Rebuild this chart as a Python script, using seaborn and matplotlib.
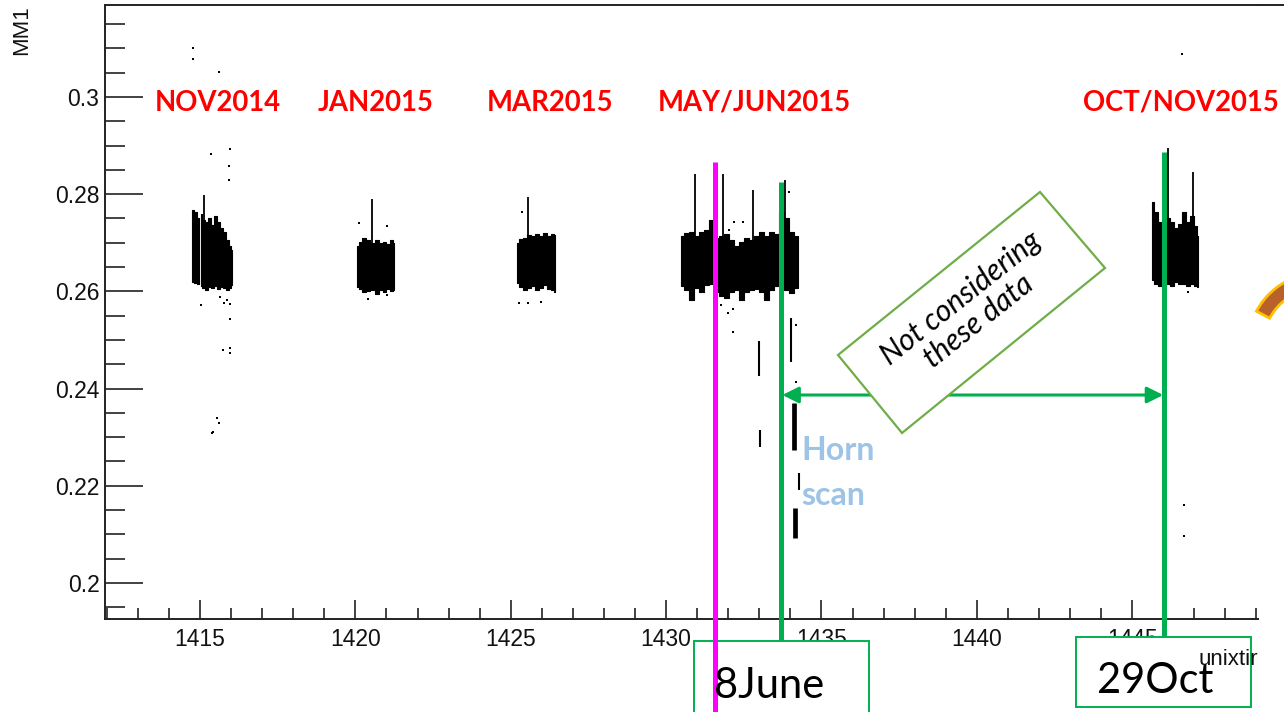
import numpy as np
import pandas as pd
import matplotlib
matplotlib.use("Agg")
import matplotlib.pyplot as plt
import matplotlib.transforms as mtransforms
from matplotlib.patches import Rectangle, Polygon, Wedge
from matplotlib.lines import Line2D
from matplotlib.ticker import FixedLocator, MultipleLocator
import seaborn as sns

# ---------------- data (unixtime / 1e6, MM1) ----------------
nov_t  = [1414.74, 1414.84, 1414.97, 1415.00, 1415.04, 1415.10, 1415.19, 1415.29, 1415.39,
          1415.48, 1415.58, 1415.68, 1415.77, 1415.87, 1415.97, 1416.03]
nov_hi = [0.2767, 0.2763, 0.2751, np.nan, 0.2759, 0.2747, 0.2743, 0.2751, 0.2737,
          0.2755, 0.2743, 0.2730, 0.2722, 0.2706, 0.2693, 0.2685]
nov_lo = [0.2619, 0.2617, 0.2615, np.nan, 0.2611, 0.2607, 0.2603, 0.2609, 0.2607,
          0.2611, 0.2605, 0.2609, 0.2607, 0.2603, 0.2607, 0.2613]

jan_t  = [1420.06, 1420.16, 1420.29, 1420.42, 1420.55, 1420.68, 1420.81, 1420.94, 1421.06, 1421.19, 1421.23]
jan_hi = [0.2693, 0.2702, 0.2710, 0.2706, 0.2700, 0.2706, 0.2700, 0.2702, 0.2697, 0.2706, 0.2700]
jan_lo = [0.2609, 0.2605, 0.2599, 0.2601, 0.2603, 0.2595, 0.2603, 0.2599, 0.2605, 0.2601, 0.2603]

mar_t  = [1425.19, 1425.32, 1425.45, 1425.58, 1425.71, 1425.84, 1425.97, 1426.10, 1426.23, 1426.35, 1426.42]
mar_hi = [0.2700, 0.2708, 0.2710, 0.2716, 0.2714, 0.2718, 0.2714, 0.2720, 0.2714, 0.2718, 0.2716]
mar_lo = [0.2617, 0.2609, 0.2603, 0.2607, 0.2611, 0.2603, 0.2607, 0.2613, 0.2605, 0.2603, 0.2599]

may_t  = [1430.48, 1430.65, 1430.81, 1430.97, 1431.13, 1431.29, 1431.45, 1431.61, 1431.77, 1431.94,
          1432.10, 1432.26, 1432.42, 1432.58, 1432.74, 1432.90, 1433.06, 1433.23, 1433.39, 1433.55,
          1433.71, 1433.87, 1434.03, 1434.23]
may_hi = [0.2714, 0.2720, 0.2722, 0.2714, 0.2722, 0.2726, 0.2747, 0.2710, 0.2714, 0.2718,
          0.2706, 0.2693, 0.2702, 0.2710, 0.2706, 0.2714, 0.2722, 0.2714, 0.2722, 0.2718,
          0.2763, 0.2751, 0.2722, 0.2714]
may_lo = [0.2611, 0.2603, 0.2582, 0.2607, 0.2599, 0.2613, 0.2615, 0.2599, 0.2591, 0.2586,
          0.2599, 0.2603, 0.2582, 0.2599, 0.2603, 0.2605, 0.2599, 0.2582, 0.2603, 0.2611,
          0.2615, 0.2603, 0.2597, 0.2607]

oct_t  = [1445.65, 1445.77, 1445.90, 1446.03, 1446.16, 1446.29, 1446.42, 1446.55, 1446.68,
          1446.81, 1446.94, 1447.06, 1447.13]
oct_hi = [0.2784, 0.2763, 0.2743, 0.2737, 0.2751, 0.2743, 0.2730, 0.2739, 0.2763,
          0.2743, 0.2755, 0.2735, 0.2714]
oct_lo = [0.2623, 0.2615, 0.2611, 0.2619, 0.2615, 0.2611, 0.2619, 0.2615, 0.2615,
          0.2611, 0.2615, 0.2611, 0.2609]

# single-shot spikes
spike_t  = [1415.13, 1420.54, 1425.57, 1430.93, 1431.84, 1432.80, 1433.82, 1446.15, 1446.95]
spike_hi = [0.2798, 0.2790, 0.2794, 0.2842, 0.2842, 0.2809, 0.2829, 0.2895, 0.2846]
spike_lo = [0.2660, 0.2660, 0.2660, 0.2660, 0.2660, 0.2660, 0.2660, 0.2660, 0.2660]

# horn-scan runs
horn_t  = [1434.03, 1434.11, 1434.27, 1434.14, 1433.00, 1433.03]
horn_hi = [0.2545, 0.2370, 0.2226, 0.2154, 0.2498, 0.2315]
horn_lo = [0.2455, 0.2274, 0.2191, 0.2092, 0.2426, 0.2280]
horn_thick = [False, True, False, True, False, False]

# isolated points
out_t = [1414.77, 1414.77, 1415.61, 1415.35, 1415.97, 1415.94, 1415.94, 1415.03, 1415.97, 1415.74,
         1415.97, 1415.97, 1415.55, 1415.61, 1415.42, 1415.39, 1415.65, 1415.87, 1415.97, 1415.77,
         1420.42, 1421.03, 1420.10, 1421.03,
         1425.35, 1425.26, 1425.55, 1425.97,
         1431.77, 1432.16, 1432.00, 1432.16, 1434.19, 1434.19, 1432.19, 1432.48, 1432.03, 1433.97,
         1446.61, 1446.68, 1446.68, 1446.81]
out_v = [0.3101, 0.3078, 0.3051, 0.2883, 0.2893, 0.2858, 0.2829, 0.2572, 0.2543, 0.2479,
         0.2483, 0.2473, 0.2339, 0.2329, 0.2311, 0.2309, 0.2588, 0.2582, 0.2574, 0.2576,
         0.2584, 0.2592, 0.2741, 0.2735,
         0.2763, 0.2576, 0.2576, 0.2578,
         0.2572, 0.2564, 0.2555, 0.2516, 0.2531, 0.2414, 0.2743, 0.2743, 0.2726, 0.2804,
         0.3089, 0.2160, 0.2097, 0.2599]

x_ticks = [1415, 1420, 1425, 1430, 1435, 1440, 1445]
x_tick_labels = ["1415", "1420", "1425", "1430", "1435", "1440", "1445"]
y_ticks = [0.20, 0.22, 0.24, 0.26, 0.28, 0.30]
y_tick_labels = ["0.2", "0.22", "0.24", "0.26", "0.28", "0.3"]

period_labels = ["NOV2014", "JAN2015", "MAR2015", "MAY/JUN2015", "OCT/NOV2015"]
marker_dates = [1431.56, 1433.71, 1446.03]     # magenta, 8 June, 29 Oct
arrow_from, arrow_to = 1433.74, 1446.00

# ---------------- figure ----------------
sns.set_theme(style="white")
plt.rcParams["font.family"] = ["Liberation Sans", "DejaVu Sans"]

W, H = 1284, 712
fig = plt.figure(figsize=(W / 100, H / 100), dpi=100)
fig.patch.set_facecolor("white")
ax = fig.add_axes([105 / W, 1 - 619 / H, (1258 - 105) / W, (619 - 5) / H])
ax.set_facecolor("white")
ax.autoscale(False)
ax.set_xlim(1411.94, 1449.05)
ax.set_ylim(0.19259, 0.31893)

pxT = mtransforms.Affine2D().scale(1, -1).translate(0, H)
blend = mtransforms.blended_transform_factory(ax.transData, pxT)

# clusters
for t, lo, hi in [(nov_t, nov_lo, nov_hi), (jan_t, jan_lo, jan_hi), (mar_t, mar_lo, mar_hi),
                  (may_t, may_lo, may_hi), (oct_t, oct_lo, oct_hi)]:
    ax.fill_between(t, lo, hi, step="mid", color="black", lw=0.8, edgecolor="black", zorder=2)

ax.vlines(spike_t, spike_lo, spike_hi, color="black", lw=1.3, zorder=2)
ax.vlines(horn_t, horn_lo, horn_hi, color="black",
          linewidths=[3.4 if th else 1.5 for th in horn_thick], zorder=2)
sns.scatterplot(x=out_t, y=out_v, ax=ax, color="black", s=3, marker="s",
                linewidth=0, legend=False, zorder=3)

# axes styling (ROOT look)
for s in ["left", "bottom", "top"]:
    ax.spines[s].set_color("#222222")
    ax.spines[s].set_linewidth(1.4)
ax.spines["right"].set_visible(False)
fig.add_artist(Line2D([1258 / W, 1.0], [1 - 5 / H, 1 - 5 / H], color="#222222", lw=1.4))

ax.xaxis.set_major_locator(FixedLocator(x_ticks))
ax.set_xticklabels(x_tick_labels)
ax.xaxis.set_minor_locator(MultipleLocator(1))
ax.yaxis.set_major_locator(FixedLocator(y_ticks))
ax.set_yticklabels(y_tick_labels)
ax.yaxis.set_minor_locator(MultipleLocator(0.005))
ax.tick_params(axis="y", which="major", direction="in", length=27, width=1.2,
               color="#222222", pad=4.0, labelsize=16.5, labelcolor="#111111", left=True)
ax.tick_params(axis="y", which="minor", direction="in", length=14.4, width=1.2,
               color="#222222", left=True)
ax.tick_params(axis="x", which="major", direction="in", length=13.7, width=1.2,
               color="#222222", pad=6.5, labelsize=16.5, labelcolor="#111111", bottom=True)
ax.tick_params(axis="x", which="minor", direction="in", length=7.9, width=1.2,
               color="#222222", bottom=True)

ax.text(22, 5, "MM1", transform=pxT, rotation=90, ha="center", va="top",
        fontsize=16, color="#111111", clip_on=False)
ax.text(1258, 665, "unixtir", transform=pxT, ha="right", va="baseline",
        fontsize=16, color="#111111", clip_on=False, zorder=9)

# period labels
label_px = [218, 376, 550, 754, 1181]
for lab, xp in zip(period_labels, label_px):
    ax.text(xp, 111, lab, transform=pxT, ha="center", va="baseline", color="#FF0000",
            fontsize=19.8, fontweight="bold", family=["Lato", "DejaVu Sans"], zorder=3, clip_on=False)

# vertical marker lines (end at the top of the date boxes)
green = "#00B050"
tops = [162, 182, 152]
bottoms = [H + 5, 641, 637]
cols = ["#FF00FF", green, green]
zs = [7, 4, 4]
for d, tp, bt, c, z in zip(marker_dates, tops, bottoms, cols, zs):
    ax.plot([d, d], [tp, bt], transform=blend, color=c, lw=3.6, clip_on=False,
            zorder=z, solid_capstyle="butt")

# double arrow
ax.annotate("", xy=(arrow_from, 395), xytext=(arrow_to, 395), xycoords=blend, textcoords=blend,
            arrowprops=dict(arrowstyle="<|-|>,head_length=0.7,head_width=0.35", color=green,
                            lw=2.2, shrinkA=0, shrinkB=0, mutation_scale=14),
            zorder=4, annotation_clip=False)

# rotated "Not considering these data" box
poly = Polygon([(838, 355), (1040, 192), (1105, 268), (902, 433)], closed=True,
               transform=pxT, facecolor="white", edgecolor="#70AD47", lw=1.6,
               zorder=5, clip_on=False)
ax.add_patch(poly)
ax.text(970, 310, "Not considering\nthese data", transform=pxT, rotation=38.5,
        rotation_mode="anchor", ha="center", va="center", fontsize=21.5, style="italic",
        family=["Lato", "DejaVu Sans"], color="black", zorder=6, linespacing=1.05, clip_on=False)

# Horn scan
ax.text(801, 460, "Horn", transform=pxT, ha="left", va="baseline", color="#9DC3E6",
        fontsize=23, fontweight="bold", family=["Lato", "DejaVu Sans"], zorder=6, clip_on=False)
ax.text(801, 505, "scan", transform=pxT, ha="left", va="baseline", color="#9DC3E6",
        fontsize=23, fontweight="bold", family=["Lato", "DejaVu Sans"], zorder=6, clip_on=False)

# date boxes
for (x0, y0, x1, y1), txt, tx, ty in [((694, 641, 869, 730), "8June", 714, 698),
                                       ((1076, 637, 1251, 707), "29Oct", 1097, 693)]:
    ax.add_patch(Rectangle((x0, y0), x1 - x0, y1 - y0, transform=pxT, facecolor="white",
                           edgecolor=green, lw=1.4, zorder=6, clip_on=False))
    ax.text(tx, ty, txt, transform=pxT, ha="left", va="baseline", fontsize=30,
            family=["Lato", "DejaVu Sans"], color="black", zorder=8, clip_on=False)

# decorative arc at right edge
ax.add_patch(Wedge((1320, 345), 72, 208, 285, width=15, transform=pxT,
                   facecolor="#B8612B", edgecolor="#FFC000", lw=2, zorder=6, clip_on=False))

fig.savefig("out.png", dpi=100, facecolor="white")
